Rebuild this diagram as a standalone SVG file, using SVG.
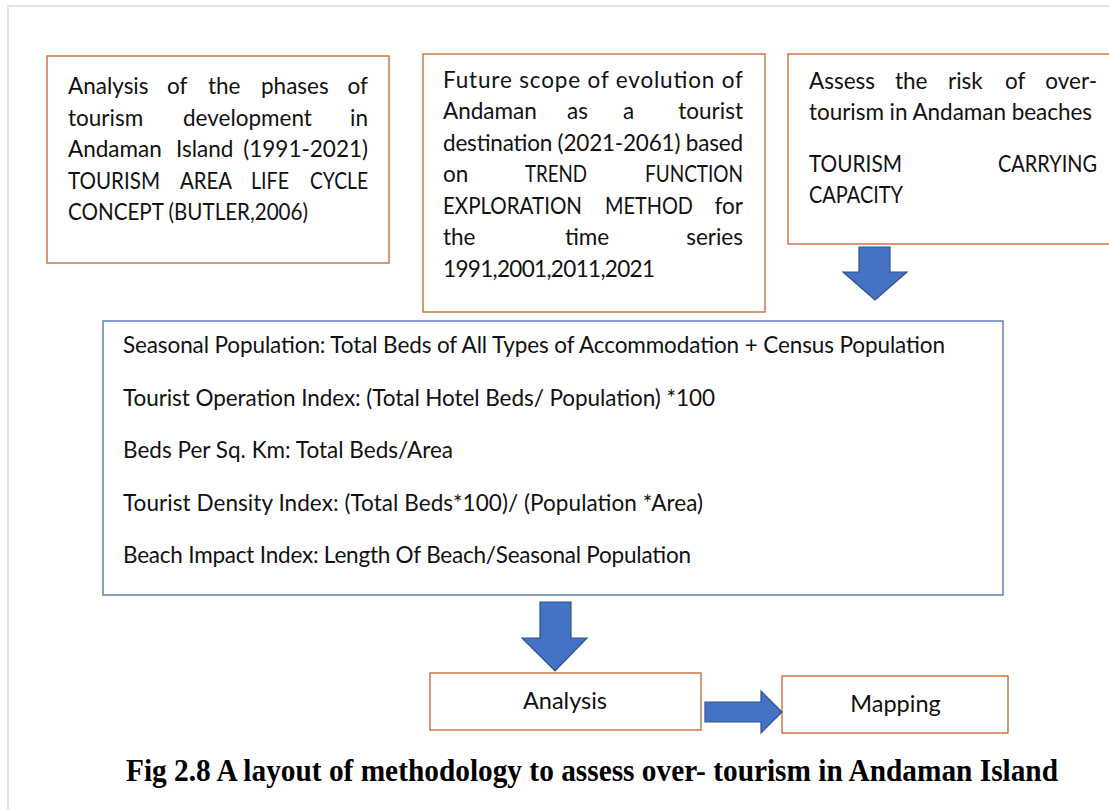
<svg xmlns="http://www.w3.org/2000/svg" width="1109" height="810" viewBox="0 0 1109 810">
<style>
.bg{fill:#ffffff}
.page{fill:none;stroke:#e3e3e3;stroke-width:2}
.ob{fill:#ffffff;stroke:#c5622c;stroke-width:1.3}
.bb{fill:#ffffff;stroke:#4a6eb0;stroke-width:1.3}
.t{font-family:Lato,"Open Sans","Noto Sans",sans-serif;font-size:22.5px;fill:#111111}
.e{text-anchor:end}
.m{text-anchor:middle}
.big{font-size:23.5px}
.cap{font-family:"Liberation Serif","Times New Roman",serif;font-weight:bold;font-size:31px;fill:#000000}
.arr{fill:#4472c4;stroke:#2f528f;stroke-width:1.2;stroke-linejoin:miter}
</style>
<rect class="bg" x="0" y="0" width="1109" height="810"/>
<path class="page" d="M8,812 L8,6 L1111,6"/>

<g id="box-phases">
<rect class="ob" x="47" y="56" width="342" height="207"/>
<text class="t" x="68" y="94">Analysis</text>
<text class="t" x="167" y="94">of</text>
<text class="t" x="208" y="94">the</text>
<text class="t" x="261" y="94">phases</text>
<text class="t e" x="368" y="94">of</text>
<text class="t" x="68" y="125.5">tourism</text>
<text class="t" x="183" y="125.5">development</text>
<text class="t e" x="368" y="125.5">in</text>
<text class="t" x="68" y="157">Andaman</text>
<text class="t" x="176" y="157">Island</text>
<text class="t e" x="368" y="157">(1991-2021)</text>
<text class="t" x="68" y="188.5" textLength="92" lengthAdjust="spacingAndGlyphs">TOURISM</text>
<text class="t" x="180" y="188.5" textLength="52" lengthAdjust="spacingAndGlyphs">AREA</text>
<text class="t" x="251" y="188.5" textLength="38" lengthAdjust="spacingAndGlyphs">LIFE</text>
<text class="t" x="310" y="188.5" textLength="58" lengthAdjust="spacingAndGlyphs">CYCLE</text>
<text class="t" x="68" y="220" textLength="240" lengthAdjust="spacingAndGlyphs">CONCEPT (BUTLER,2006)</text>
</g>

<g id="box-future">
<rect class="ob" x="423" y="54" width="342" height="258"/>
<text class="t" x="443" y="87.5" textLength="300" lengthAdjust="spacing">Future scope of evolution of</text>
<text class="t" x="443" y="119">Andaman</text>
<text class="t" x="567" y="119">as</text>
<text class="t" x="623" y="119">a</text>
<text class="t e" x="743" y="119">tourist</text>
<text class="t" x="443" y="150.5" textLength="300" lengthAdjust="spacing">destination (2021-2061) based</text>
<text class="t" x="443" y="182">on</text>
<text class="t" x="525" y="182" textLength="62" lengthAdjust="spacingAndGlyphs">TREND</text>
<text class="t" x="645" y="182" textLength="98" lengthAdjust="spacingAndGlyphs">FUNCTION</text>
<text class="t" x="443" y="213.5" textLength="139" lengthAdjust="spacingAndGlyphs">EXPLORATION</text>
<text class="t" x="605" y="213.5" textLength="88" lengthAdjust="spacingAndGlyphs">METHOD</text>
<text class="t e" x="743" y="213.5">for</text>
<text class="t" x="443" y="245">the</text>
<text class="t" x="565" y="245">time</text>
<text class="t e" x="743" y="245">series</text>
<text class="t" x="443" y="276.5" textLength="212" lengthAdjust="spacing">1991,2001,2011,2021</text>
</g>

<g id="box-risk">
<rect class="ob" x="788" y="54" width="330" height="190"/>
<text class="t" x="809" y="88.5">Assess</text>
<text class="t" x="895" y="88.5">the</text>
<text class="t" x="948" y="88.5">risk</text>
<text class="t" x="1005" y="88.5">of</text>
<text class="t e" x="1097" y="88.5">over-</text>
<text class="t" x="809" y="119.5" textLength="283" lengthAdjust="spacing">tourism in Andaman beaches</text>
<text class="t" x="809" y="171.5" textLength="93" lengthAdjust="spacingAndGlyphs">TOURISM</text>
<text class="t" x="998" y="171.5" textLength="99" lengthAdjust="spacingAndGlyphs">CARRYING</text>
<text class="t" x="809" y="203" textLength="94" lengthAdjust="spacingAndGlyphs">CAPACITY</text>
</g>

<g id="box-indices">
<rect class="bb" x="103" y="321" width="900" height="274"/>
<text class="t" x="123" y="353" textLength="822" lengthAdjust="spacing">Seasonal Population: Total Beds of All Types of Accommodation + Census Population</text>
<text class="t" x="123" y="405.5" textLength="592" lengthAdjust="spacing">Tourist Operation Index: (Total Hotel Beds/ Population) *100</text>
<text class="t" x="123" y="458" textLength="330" lengthAdjust="spacing">Beds Per Sq. Km:  Total Beds/Area</text>
<text class="t" x="123" y="510.5" textLength="580" lengthAdjust="spacing">Tourist Density Index: (Total Beds*100)/ (Population *Area)</text>
<text class="t" x="123" y="563" textLength="568" lengthAdjust="spacing">Beach Impact Index: Length Of Beach/Seasonal Population</text>
</g>

<g id="box-analysis">
<rect class="ob" x="430" y="673" width="271" height="57"/>
<text class="t m big" x="565" y="709">Analysis</text>
</g>

<g id="box-mapping">
<rect class="ob" x="782" y="676" width="226" height="57"/>
<text class="t m big" x="895.5" y="712">Mapping</text>
</g>

<g id="connectors">
<polygon class="arr" points="859,247 890,247 890,272 907,272 875,300 843,272 859,272"/>
<polygon class="arr" points="540,602 571,602 571,638 587,638 555,671 522,638 540,638"/>
<polygon class="arr" points="705,702 761,702 761,691 782,712 761,733 761,722 705,722"/>
</g>

<text class="cap" x="126" y="781" textLength="932" lengthAdjust="spacingAndGlyphs">Fig 2.8 A layout of methodology to assess over- tourism in Andaman Island</text>
</svg>
